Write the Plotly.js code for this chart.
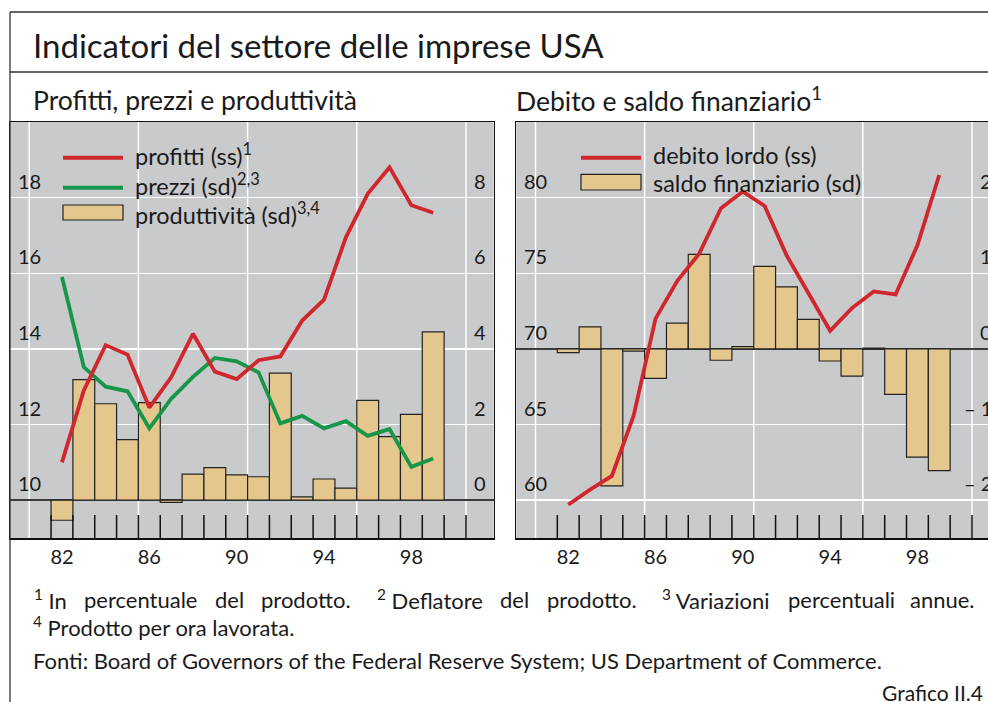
<!DOCTYPE html>
<html><head><meta charset="utf-8">
<script src="https://cdn.plot.ly/plotly-3.0.1.min.js"></script>
<style>html,body{margin:0;padding:0;overflow:hidden;background:#fff;width:988px;height:702px}#chart{width:1005px;height:702px}</style>
</head><body><div id="chart"></div><script>
// ---- data ----
const years = [1982,1983,1984,1985,1986,1987,1988,1989,1990,1991,1992,1993,1994,1995,1996,1997,1998,1999];
const profitti = [11.0,12.9,14.1,13.85,12.45,13.25,14.4,13.4,13.2,13.7,13.8,14.75,15.3,16.95,18.1,18.8,17.8,17.6];
const prezzi = [5.9,3.52,3.0,2.88,1.9,2.68,3.26,3.76,3.67,3.38,2.03,2.23,1.9,2.09,1.7,1.88,0.88,1.1];
const produttivita = [-0.53,3.19,2.55,1.6,2.58,-0.06,0.69,0.86,0.67,0.62,3.36,0.09,0.56,0.32,2.64,1.68,2.27,4.45];
const debitoLordo = [59.7,60.7,61.6,65.6,72.0,74.5,76.3,79.3,80.4,79.45,76.2,73.7,71.2,72.7,73.8,73.6,76.85,81.5];
const saldoFinanziario = [-0.05,0.29,-1.81,-0.03,-0.39,0.34,1.25,-0.15,0.03,1.09,0.82,0.39,-0.16,-0.36,0.01,-0.6,-1.43,-1.61];

const xTickVals = [1982,1986,1990,1994,1998];
const xTickText = ['82','86','90','94','98'];
const gridYears = [1980.5,1985.5,1990.5,1995.5,2000.5];
const yearBounds = [1981.5,1982.5,1983.5,1984.5,1985.5,1986.5,1987.5,1988.5,1989.5,1990.5,1991.5,1992.5,1993.5,1994.5,1995.5,1996.5,1997.5,1998.5,1999.5,2000.5];
const profTicks = [10,12,14,16,18];
const prodTicks = [0,2,4,6,8];
const debtTicks = [60,65,70,75,80];
const saldoTicks = [-2,-1,0,1,2];
const saldoTickText = ['\u2013 2','\u2013 1','0','1','2'];

const titleText = 'Indicatori del settore delle imprese USA';
const subLeft = 'Profitti, prezzi e produttività';
const subRight = 'Debito e saldo finanziario<sup>1</sup>';
const legendLeft = ['profitti (ss)<sup>1</sup>', 'prezzi (sd)<sup>2,3</sup>', 'produttività (sd)<sup>3,4</sup>'];
const legendRight = ['debito lordo (ss)', 'saldo finanziario (sd)'];
const footnoteNums = ['1','2','3'];
const footnoteTexts = ['In percentuale del prodotto.', 'Deflatore del prodotto.', 'Variazioni percentuali annue.'];
const footnote4 = '<sup>4</sup> Prodotto per ora lavorata.';
const sourceText = 'Fonti: Board of Governors of the Federal Reserve System; US Department of Commerce.';
const chartId = 'Grafico II.4';

// ---- styling / layout ----
const W = 1005, H = 702;
const FAM = 'Lato';
const FONT = 'Lato, "Open Sans", sans-serif';
const TXT = '#1a1a1a';
const RED = '#d0262d', GREEN = '#17964a', TAN = '#e4c78d', BG = '#c9cacc';
const px = x => x / W, py = y => 1 - y / H;
const leftDom = [px(10), px(493.7)], rightDom = [px(516.3), px(999.7)], yDom = [py(538), py(122)];
const xRange = [1979.62, 2001.77];

const traces = [
  {type:'bar', x:years, y:produttivita, xaxis:'x', yaxis:'y', width:1,
   marker:{color:TAN, line:{color:'#222', width:1.2}}, showlegend:false, hoverinfo:'skip'},
  {type:'scatter', mode:'lines', x:years, y:prezzi, xaxis:'x', yaxis:'y',
   line:{color:GREEN, width:3.8}, showlegend:false},
  {type:'scatter', mode:'lines', x:years, y:profitti, xaxis:'x', yaxis:'y2',
   line:{color:RED, width:3.8}, showlegend:false},
  {type:'bar', x:years, y:saldoFinanziario, xaxis:'x2', yaxis:'y3', width:1,
   marker:{color:TAN, line:{color:'#222', width:1.2}}, showlegend:false},
  {type:'scatter', mode:'lines', x:years, y:debitoLordo, xaxis:'x2', yaxis:'y4',
   line:{color:RED, width:3.8}, showlegend:false}
];

const xCommon = {range:xRange, tickmode:'array', tickvals:xTickVals, ticktext:xTickText, ticks:'',
  showgrid:false, zeroline:false, showline:true, mirror:true, linecolor:'#111', linewidth:1.5,
  tickfont:{family:FONT, size:20, color:TXT}, fixedrange:true};
const yMainCommon = {side:'right', showticklabels:false, ticks:'', tickmode:'array', showgrid:true,
  gridcolor:'#ffffff', gridwidth:1.5, zeroline:true, zerolinecolor:'#3c3c3c', zerolinewidth:1.5,
  showline:true, mirror:true, linecolor:'#111', linewidth:1.5, domain:yDom, fixedrange:true};
const yOverCommon = {side:'left', showticklabels:false, ticks:'', showgrid:false, zeroline:false, showline:false, fixedrange:true};

const shapes = [];
const frame = {color:'#333', width:1.3};
shapes.push({type:'line', xref:'paper', yref:'paper', x0:px(10), x1:px(10), y0:py(12), y1:py(702), line:frame});
shapes.push({type:'line', xref:'paper', yref:'paper', x0:px(10), x1:1, y0:py(12), y1:py(12), line:frame});
shapes.push({type:'line', xref:'paper', yref:'paper', x0:px(10), x1:1, y0:py(72), y1:py(72), line:frame});
['x','x2'].forEach(xa => {
  const ya = xa === 'x' ? 'y' : 'y3';
  gridYears.forEach(g => shapes.push({type:'line', layer:'below', xref:xa, yref:ya+' domain', x0:g, x1:g, y0:0, y1:1,
    line:{color:'#ffffff', width:1.5}}));
  yearBounds.forEach(b => shapes.push({type:'line', layer:'above', xref:xa, yref:ya+' domain',
    ysizemode:'pixel', yanchor:0, x0:b, x1:b, y0:0, y1:23, line:{color:'#111', width:1.5}}));
});
// custom legend swatches
shapes.push({type:'line', xref:'paper', yref:'paper', x0:px(63), x1:px(123), y0:py(157.7), y1:py(157.7), line:{color:RED, width:4}});
shapes.push({type:'line', xref:'paper', yref:'paper', x0:px(63), x1:px(123), y0:py(187.7), y1:py(187.7), line:{color:GREEN, width:4}});
shapes.push({type:'rect', xref:'paper', yref:'paper', x0:px(63), x1:px(123), y0:py(220), y1:py(205), fillcolor:TAN, line:{color:'#222', width:1.2}});
shapes.push({type:'line', xref:'paper', yref:'paper', x0:px(581), x1:px(641), y0:py(157.7), y1:py(157.7), line:{color:RED, width:4}});
shapes.push({type:'rect', xref:'paper', yref:'paper', x0:px(581), x1:px(641), y0:py(190), y1:py(174.3), fillcolor:TAN, line:{color:'#222', width:1.2}});

const ann = [];
const A = (o) => ann.push(Object.assign({showarrow:false, borderpad:0, font:{family:FONT, size:20, color:TXT}}, o));
// axis labels inside plots
profTicks.forEach(v => A({xref:'x domain', x:0, xanchor:'left', xshift:7, yref:'y2', y:v, yanchor:'middle', yshift:17, text:String(v)}));
prodTicks.forEach(v => A({xref:'x domain', x:1, xanchor:'right', xshift:-7, yref:'y', y:v, yanchor:'middle', yshift:17, text:String(v)}));
debtTicks.forEach(v => A({xref:'x2 domain', x:0, xanchor:'left', xshift:7, yref:'y4', y:v, yanchor:'middle', yshift:17, text:String(v)}));
saldoTicks.forEach((v,i) => A({xref:'x2 domain', x:1, xanchor:'right', xshift:-7, yref:'y3', y:v, yanchor:'middle', yshift:17, text:saldoTickText[i]}));
// titles
const P = (x, y, text, size, anchor) => A({xref:'paper', yref:'paper', x:px(x), y:py(y), xanchor:anchor||'left', yanchor:'middle', text:text, font:{family:FONT, size:size, color:TXT}});
P(32, 45, titleText, 33);
P(32, 100, subLeft, 26.5);
P(515, 100, subRight, 26.5);
// legend texts
const LEG = 23.5;
legendLeft.forEach((t,i) => P(134, [155, 184, 213][i], t, LEG));
legendRight.forEach((t,i) => P(652, [155, 183][i], t, LEG));

// justified first footnote line (words measured with canvas, spread between x=33 and x=976)
const FN = 22;
const ctx = document.createElement('canvas').getContext('2d');
const measure = (s, size) => { ctx.font = size + 'px ' + FAM; return ctx.measureText(s).width; };
const words = [];
footnoteTexts.forEach((t, k) => {
  t.split(' ').forEach((w, j) => {
    if (j === 0) words.push({text:'<sup>' + footnoteNums[k] + '</sup> ' + w,
      w: measure(footnoteNums[k], FN*0.7) + measure(' ' + w, FN), sep: k > 0});
    else words.push({text:w, w: measure(w, FN), sep:false});
  });
});
const x0 = 33, x1 = 976;
const total = words.reduce((s, o) => s + o.w, 0);
const weights = words.slice(1).reduce((s, o) => s + (o.sep ? 1.5 : 1), 0);
const gap = (x1 - x0 - total) / weights;
let cx = x0;
words.forEach((o, i) => {
  if (i > 0) cx += gap * (o.sep ? 1.5 : 1);
  if (i === words.length - 1) P(x1, 599, o.text, FN, 'right');
  else P(cx, 599, o.text, FN);
  cx += o.w;
});
P(32, 626, footnote4, FN);
P(32, 660, sourceText, FN);
P(984, 692, chartId, 21, 'right');

const layout = {
  width:W, height:H, margin:{l:0, r:0, t:0, b:0}, paper_bgcolor:'#ffffff', plot_bgcolor:BG,
  showlegend:false, bargap:0, font:{family:FONT, color:TXT},
  xaxis:Object.assign({}, xCommon, {domain:leftDom, anchor:'y'}),
  xaxis2:Object.assign({}, xCommon, {domain:rightDom, anchor:'y3'}),
  yaxis:Object.assign({}, yMainCommon, {range:[-1,10], tickvals:[2,4,6,8], anchor:'x'}),
  yaxis2:Object.assign({}, yOverCommon, {range:[9,20], overlaying:'y', anchor:'x'}),
  yaxis3:Object.assign({}, yMainCommon, {range:[-2.5,3], tickvals:[-2,-1,1,2], anchor:'x2'}),
  yaxis4:Object.assign({}, yOverCommon, {range:[57.5,85], overlaying:'y3', anchor:'x2'}),
  shapes:shapes, annotations:ann
};
Plotly.newPlot('chart', traces, layout, {displayModeBar:false, staticPlot:true});
</script></body></html>
